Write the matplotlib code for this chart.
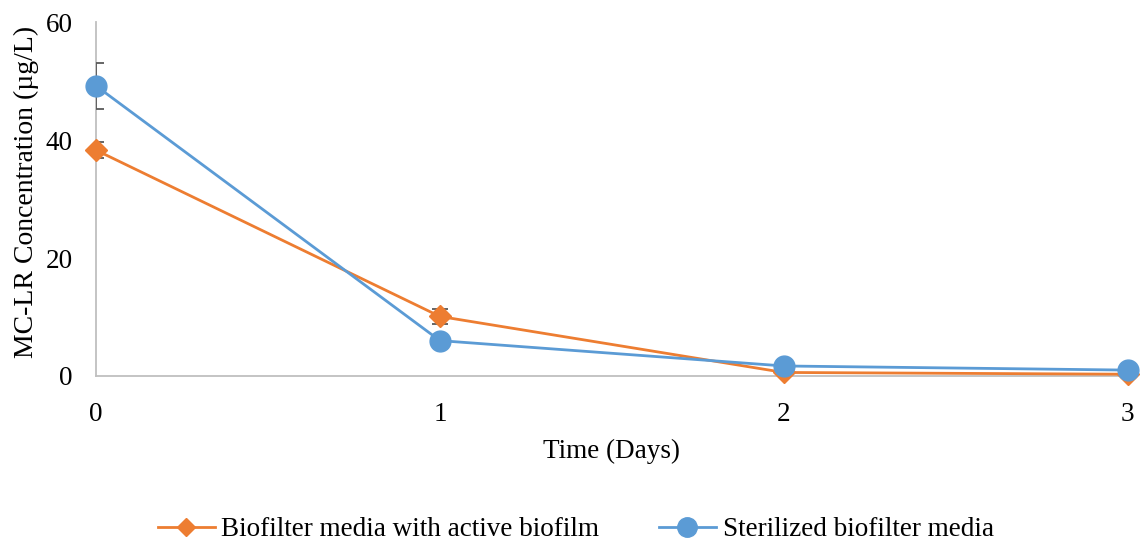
import matplotlib
matplotlib.use("Agg")
import matplotlib.pyplot as plt
from matplotlib.lines import Line2D

days = [0, 1, 2, 3]
active = [38.3, 10.1, 0.6, 0.3]
active_err = [1.4, 1.2, 0.0, 0.0]
sterile = [49.2, 6.0, 1.7, 1.0]
sterile_err = [3.9, 0.0, 0.0, 0.0]
labels = ['Biofilter media with active biofilm', 'Sterilized biofilter media']

orange = '#ED7D31'
blue = '#5B9BD5'

plt.rcParams['font.family'] = ['Liberation Serif', 'DejaVu Serif']

fig = plt.figure(figsize=(11.4, 5.41), dpi=100)
ax = fig.add_axes([0.0842, 0.305, 0.905, 0.654])

eb1 = ax.errorbar(days, active, yerr=active_err, color=orange, marker='D', markersize=11,
                  lw=2, ecolor='#595959', elinewidth=1.3, capsize=5.5, capthick=1.3, zorder=3)
eb2 = ax.errorbar(days, sterile, yerr=sterile_err, color=blue, marker='o', markersize=15,
                  lw=2, ecolor='#595959', elinewidth=1.3, capsize=5.5, capthick=1.3, zorder=4)
# markers may spill past the axes edge, error bar caps stay clipped like the original
eb1[0].set_clip_on(False)
eb2[0].set_clip_on(False)

ax.set_xlim(0, 3)
ax.set_ylim(0, 60)
ax.set_xticks(days)
ax.set_yticks([0, 20, 40, 60])
ax.tick_params(length=0, labelsize=19.5)
ax.tick_params(axis='y', pad=17)
ax.tick_params(axis='x', pad=19)
for s in ['top', 'right']:
    ax.spines[s].set_visible(False)
for s in ['left', 'bottom']:
    ax.spines[s].set_color('#BFBFBF')
    ax.spines[s].set_linewidth(1.3)

ax.set_xlabel('Time (Days)', fontsize=19.5, labelpad=8)
ax.set_ylabel('MC-LR Concentration (µg/L)', fontsize=20)
ax.yaxis.set_label_coords(-0.055, 0.52)

handles = [Line2D([], [], color=orange, marker='D', markersize=9, lw=2),
           Line2D([], [], color=blue, marker='o', markersize=14, lw=2)]
fig.legend(handles, labels, loc='lower center', bbox_to_anchor=(0.505, -0.047), ncol=2,
           frameon=False, fontsize=19.5, handlelength=2.1, handletextpad=0.25,
           columnspacing=2.2)

fig.savefig('out.png', dpi=100)
